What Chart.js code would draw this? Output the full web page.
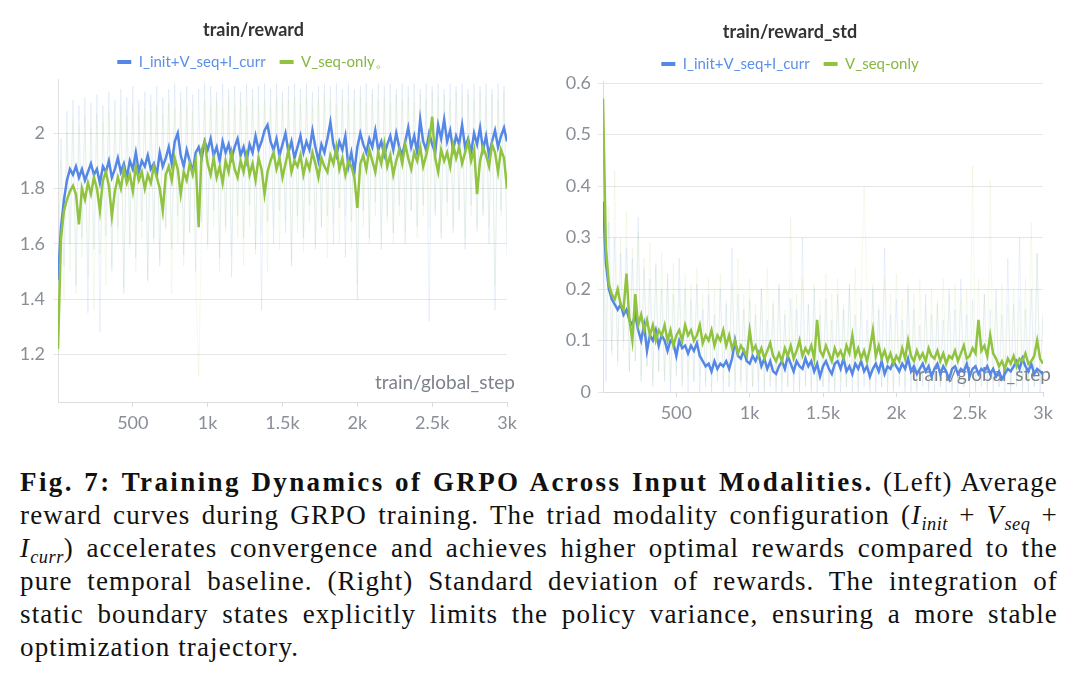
<!DOCTYPE html>
<html>
<head>
<meta charset="utf-8">
<script src="https://cdn.jsdelivr.net/npm/chart.js@4.4.1/dist/chart.umd.min.js"></script>
<style>
  body { margin:0; background:#fff; width:1074px; height:676px; position:relative; overflow:hidden; }
  #c1 { position:absolute; left:0; top:0; }
  #c2 { position:absolute; left:537px; top:0; }
  .cap { position:absolute; left:20px; top:466px; width:1038px; font-family:'Liberation Serif', serif; font-size:27px; line-height:33px; color:#111; letter-spacing:1.15px; }
  .cap div { text-align:justify; text-align-last:justify; }
  .cap div.last { text-align-last:left; }
  .cap b { letter-spacing:2.4px; }
  .cap sub { font-size:0.68em; line-height:0; font-style:italic; letter-spacing:0.5px; }
</style>
</head>
<body>
<canvas id="c1" width="537" height="442"></canvas>
<canvas id="c2" width="537" height="432"></canvas>
<div class="cap">
  <div><b>Fig. 7: Training Dynamics of GRPO Across Input Modalities.</b> (Left) Average</div>
  <div>reward curves during GRPO training. The triad modality configuration (<i>I</i><sub>init</sub> + <i>V</i><sub>seq</sub> +</div>
  <div><i>I</i><sub>curr</sub>) accelerates convergence and achieves higher optimal rewards compared to the</div>
  <div>pure temporal baseline. (Right) Standard deviation of rewards. The integration of</div>
  <div>static boundary states explicitly limits the policy variance, ensuring a more stable</div>
  <div class="last">optimization trajectory.</div>
</div>
<script>
// global steps (shared x values for every series)
const steps = [0,20,40,60,80,100,120,140,160,180,
  200,220,240,260,280,300,320,340,360,380,
  400,420,440,460,480,500,520,540,560,580,
  600,620,640,660,680,700,720,740,760,780,
  800,820,840,860,880,900,920,940,960,980,
  1000,1020,1040,1060,1080,1100,1120,1140,1160,1180,
  1200,1220,1240,1260,1280,1300,1320,1340,1360,1380,
  1400,1420,1440,1460,1480,1500,1520,1540,1560,1580,
  1600,1620,1640,1660,1680,1700,1720,1740,1760,1780,
  1800,1820,1840,1860,1880,1900,1920,1940,1960,1980,
  2000,2020,2040,2060,2080,2100,2120,2140,2160,2180,
  2200,2220,2240,2260,2280,2300,2320,2340,2360,2380,
  2400,2420,2440,2460,2480,2500,2520,2540,2560,2580,
  2600,2620,2640,2660,2680,2700,2720,2740,2760,2780,
  2800,2820,2840,2860,2880,2900,2920,2940,2960,2980,3000];

const xTickVals = [500, 1000, 1500, 2000, 2500, 3000];
const xTickLabels = ['500', '1k', '1.5k', '2k', '2.5k', '3k'];

// ---- train/reward ----
const rewardTicks = [1.2, 1.4, 1.6, 1.8, 2];
const rewardFull = [1.47,1.66,1.76,1.83,1.87,1.85,1.88,1.84,1.87,1.83,
  1.86,1.89,1.85,1.87,1.82,1.88,1.86,1.9,1.84,1.87,
  1.91,1.86,1.89,1.84,1.9,1.87,1.93,1.86,1.9,1.88,
  1.92,1.87,1.89,1.85,1.93,1.88,1.91,1.95,1.89,1.97,
  2.0,1.92,1.88,1.94,1.9,1.86,1.93,1.95,1.91,1.97,
  1.94,1.98,1.92,1.95,1.9,1.97,1.93,1.96,1.91,1.95,
  1.98,1.92,1.95,1.9,1.96,1.93,1.99,1.94,1.97,2.01,
  2.03,1.97,1.94,1.98,1.92,1.96,2.0,1.93,1.97,1.91,
  1.95,1.99,1.93,1.97,1.94,2.01,1.95,1.9,1.96,1.93,
  1.98,2.04,1.96,1.92,1.97,1.94,1.99,1.88,1.93,1.86,
  1.95,2.0,1.96,1.93,1.98,1.95,2.01,1.94,1.97,1.92,
  1.96,1.99,1.94,2.0,1.95,1.92,1.97,2.02,1.95,1.99,
  1.93,2.05,1.97,1.94,2.0,1.96,1.93,2.03,1.98,2.05,
  1.97,2.01,1.94,1.99,1.96,2.03,1.95,1.98,1.93,2.0,
  1.96,2.02,1.94,1.99,1.92,1.97,2.01,1.95,1.99,2.02,1.97];
const rewardSeq = [1.22,1.62,1.72,1.76,1.79,1.81,1.78,1.67,1.8,1.76,
  1.82,1.78,1.84,1.8,1.72,1.83,1.86,1.81,1.7,1.79,
  1.84,1.8,1.87,1.82,1.85,1.79,1.88,1.83,1.86,1.8,
  1.85,1.82,1.88,1.84,1.8,1.72,1.85,1.88,1.83,1.91,
  1.87,1.78,1.86,1.83,1.89,1.85,1.9,1.66,1.94,1.97,
  1.89,1.85,1.91,1.84,1.88,1.82,1.9,1.86,1.93,1.87,
  1.84,1.9,1.86,1.92,1.85,1.89,1.83,1.91,1.87,1.78,
  1.86,1.9,1.93,1.87,1.91,1.84,1.89,1.94,1.86,1.9,
  1.88,1.92,1.85,1.9,1.87,1.93,1.89,1.84,1.91,1.88,
  1.86,1.92,1.89,1.95,1.87,1.91,1.85,1.9,1.88,1.84,
  1.73,1.89,1.92,1.87,1.94,1.9,1.86,1.93,1.89,1.96,
  1.88,1.92,1.85,1.9,1.94,1.89,1.96,1.91,1.87,1.93,
  1.9,1.95,1.88,1.92,1.97,2.06,1.91,1.86,1.94,1.9,
  1.93,1.88,1.96,1.91,1.95,1.89,1.93,1.97,1.9,1.94,
  1.78,1.9,1.95,1.92,1.88,1.96,1.93,1.86,1.94,1.91,1.8];
// raw (unsmoothed) values, drawn faint behind
const rewardFullRaw = [1.45,1.98,1.52,2.08,1.6,2.12,1.45,2.1,1.62,2.13,
  1.35,2.11,1.58,2.14,1.28,2.1,1.63,2.15,1.5,2.12,
  1.66,2.16,1.42,2.13,1.6,2.17,1.55,2.12,1.68,2.15,
  1.47,2.14,1.62,2.17,1.52,2.13,1.66,2.16,1.58,2.18,
  1.7,2.15,1.56,2.17,1.64,2.14,1.5,2.16,1.68,2.18,
  1.6,2.17,1.72,2.15,1.55,2.18,1.66,2.16,1.48,2.17,
  1.7,2.15,1.62,2.18,1.74,2.16,1.58,2.17,1.36,2.18,
  1.68,2.16,1.6,2.18,1.72,2.15,1.64,2.17,1.52,2.18,
  1.7,2.16,1.62,2.18,1.74,2.15,1.58,2.17,1.66,2.18,
  1.7,2.17,1.6,2.18,1.73,2.16,1.55,2.18,1.68,2.16,
  1.4,2.17,1.72,2.18,1.62,2.16,1.75,2.18,1.58,2.17,
  1.7,2.18,1.64,2.16,1.74,2.18,1.6,2.17,1.72,2.18,
  1.66,2.16,1.74,2.18,1.32,2.17,1.7,2.18,1.62,2.16,
  1.75,2.18,1.64,2.17,1.72,2.18,1.58,2.16,1.74,2.18,
  1.66,2.17,1.7,2.18,1.6,2.16,1.36,2.18,1.72,2.17,1.55];
const rewardSeqRaw = [1.25,1.9,1.4,2.0,1.5,2.05,1.42,2.03,1.55,2.06,
  1.48,2.02,1.36,2.07,1.56,2.04,1.45,2.08,1.52,2.05,
  1.6,2.08,1.44,2.06,1.58,2.1,1.5,2.07,1.62,2.09,
  1.46,2.08,1.6,2.1,1.54,2.07,1.65,2.11,1.42,2.09,
  1.6,2.12,1.52,2.1,1.64,2.08,1.48,1.12,1.66,2.12,
  1.58,2.1,1.66,2.12,1.5,2.09,1.64,2.13,1.55,2.1,
  1.62,2.12,1.52,2.1,1.66,2.13,1.56,2.11,1.64,2.12,
  1.5,2.1,1.66,2.13,1.58,2.11,1.68,2.12,1.54,2.13,
  1.64,2.11,1.57,2.13,1.68,2.1,1.6,2.12,1.66,2.14,
  1.55,2.12,1.67,2.1,1.6,2.13,1.7,2.11,1.58,2.12,
  1.45,2.13,1.66,2.11,1.6,2.14,1.7,2.12,1.62,2.13,
  1.68,2.11,1.6,2.14,1.7,2.12,1.64,2.13,1.72,2.11,
  1.62,2.14,1.7,2.12,1.66,2.15,1.72,2.13,1.64,2.14,
  1.7,2.12,1.66,2.15,1.72,2.13,1.62,2.14,1.7,2.12,
  1.64,2.15,1.72,2.13,1.66,2.14,1.45,2.12,1.7,2.15,1.6];

// ---- train/reward_std ----
const stdTicks = [0, 0.1, 0.2, 0.3, 0.4, 0.5, 0.6];
const stdFull = [0.37,0.25,0.2,0.18,0.17,0.16,0.17,0.15,0.16,0.14,
  0.13,0.15,0.12,0.1,0.13,0.08,0.11,0.1,0.12,0.09,
  0.11,0.1,0.08,0.1,0.095,0.07,0.1,0.085,0.09,0.075,
  0.09,0.08,0.095,0.07,0.06,0.05,0.055,0.04,0.06,0.045,
  0.055,0.05,0.06,0.045,0.065,0.1,0.07,0.065,0.08,0.06,
  0.055,0.07,0.06,0.075,0.05,0.065,0.045,0.06,0.04,0.035,
  0.05,0.06,0.045,0.07,0.055,0.04,0.06,0.05,0.045,0.065,
  0.05,0.06,0.04,0.055,0.03,0.05,0.06,0.045,0.035,0.055,
  0.06,0.045,0.065,0.04,0.05,0.035,0.055,0.045,0.06,0.04,
  0.05,0.03,0.045,0.055,0.04,0.06,0.035,0.05,0.045,0.06,
  0.05,0.04,0.055,0.045,0.065,0.04,0.05,0.035,0.045,0.055,
  0.04,0.05,0.03,0.045,0.055,0.035,0.05,0.04,0.025,0.045,
  0.05,0.035,0.045,0.04,0.055,0.03,0.045,0.05,0.035,0.045,
  0.04,0.05,0.035,0.045,0.03,0.04,0.025,0.035,0.045,0.04,
  0.05,0.06,0.045,0.065,0.05,0.04,0.055,0.035,0.045,0.04,0.035];
const stdSeq = [0.57,0.28,0.21,0.19,0.18,0.2,0.17,0.16,0.23,0.14,
  0.1,0.19,0.13,0.15,0.12,0.14,0.11,0.13,0.1,0.12,
  0.11,0.13,0.1,0.12,0.09,0.11,0.12,0.1,0.13,0.11,
  0.12,0.1,0.11,0.13,0.095,0.11,0.1,0.12,0.09,0.11,
  0.1,0.12,0.09,0.11,0.085,0.1,0.075,0.09,0.08,0.07,
  0.12,0.08,0.09,0.07,0.085,0.065,0.08,0.095,0.07,0.06,
  0.075,0.06,0.085,0.07,0.09,0.065,0.08,0.1,0.07,0.085,
  0.075,0.09,0.065,0.14,0.08,0.07,0.09,0.075,0.06,0.085,
  0.07,0.08,0.065,0.09,0.075,0.11,0.07,0.085,0.065,0.08,
  0.06,0.085,0.12,0.07,0.09,0.065,0.08,0.06,0.075,0.055,
  0.07,0.06,0.085,0.065,0.1,0.07,0.06,0.08,0.065,0.075,
  0.06,0.085,0.07,0.065,0.08,0.06,0.075,0.055,0.07,0.065,
  0.08,0.06,0.075,0.09,0.065,0.07,0.085,0.075,0.14,0.08,
  0.09,0.07,0.11,0.075,0.065,0.05,0.06,0.045,0.065,0.055,
  0.07,0.05,0.065,0.06,0.075,0.055,0.06,0.07,0.1,0.065,0.055];
const stdFullRaw = [0.37,0.02,0.33,0.08,0.3,0.06,0.27,0.1,0.28,0.04,
  0.26,0.06,0.34,0.02,0.24,0.05,0.22,0.01,0.25,0.04,
  0.2,0.02,0.23,0.0,0.19,0.03,0.26,0.01,0.2,0.0,
  0.18,0.02,0.21,0.0,0.16,0.01,0.19,0.0,0.15,0.02,
  0.2,0.0,0.17,0.01,0.28,0.0,0.19,0.02,0.16,0.0,
  0.18,0.01,0.15,0.0,0.2,0.0,0.14,0.01,0.17,0.0,
  0.21,0.0,0.15,0.01,0.18,0.0,0.16,0.0,0.3,0.01,
  0.17,0.0,0.2,0.0,0.15,0.01,0.18,0.0,0.14,0.0,
  0.19,0.0,0.16,0.01,0.21,0.0,0.15,0.0,0.18,0.01,
  0.14,0.0,0.2,0.0,0.16,0.01,0.28,0.0,0.15,0.0,
  0.18,0.01,0.14,0.0,0.2,0.0,0.16,0.0,0.13,0.01,
  0.19,0.0,0.15,0.0,0.17,0.01,0.14,0.0,0.2,0.0,
  0.16,0.0,0.22,0.01,0.15,0.0,0.18,0.0,0.14,0.01,
  0.19,0.0,0.16,0.0,0.2,0.01,0.15,0.0,0.26,0.0,
  0.17,0.01,0.3,0.0,0.16,0.0,0.2,0.01,0.27,0.0,0.15];
const stdSeqRaw = [0.6,0.1,0.36,0.07,0.43,0.05,0.3,0.08,0.35,0.04,
  0.28,0.06,0.31,0.03,0.26,0.05,0.29,0.02,0.24,0.04,
  0.27,0.03,0.22,0.02,0.25,0.04,0.2,0.02,0.23,0.03,
  0.21,0.02,0.24,0.03,0.19,0.02,0.22,0.01,0.2,0.03,
  0.23,0.02,0.18,0.01,0.21,0.02,0.26,0.01,0.19,0.02,
  0.22,0.01,0.17,0.02,0.2,0.01,0.24,0.02,0.18,0.01,
  0.2,0.02,0.16,0.01,0.34,0.02,0.19,0.01,0.22,0.02,
  0.17,0.01,0.21,0.02,0.18,0.01,0.23,0.02,0.19,0.01,
  0.22,0.02,0.17,0.01,0.2,0.02,0.24,0.01,0.18,0.4,
  0.19,0.01,0.21,0.02,0.17,0.01,0.22,0.02,0.19,0.01,
  0.23,0.02,0.18,0.01,0.21,0.02,0.19,0.01,0.22,0.02,
  0.17,0.01,0.2,0.02,0.18,0.01,0.22,0.02,0.19,0.01,
  0.21,0.02,0.18,0.01,0.2,0.02,0.44,0.01,0.22,0.02,
  0.19,0.01,0.41,0.02,0.18,0.01,0.21,0.02,0.17,0.01,
  0.2,0.02,0.18,0.01,0.22,0.02,0.33,0.01,0.27,0.02,0.16];

const BLUE = '#5487e6', GREEN = '#90c340';
const BLUE_TXT = '#5b8fe8', GREEN_TXT = '#86b843';
const FONT = 'Lato';

// axis name drawn inside the plot, bottom right, under the lines
const stepLabel = {
  id: 'stepLabel',
  beforeDatasetsDraw(chart, args, opts) {
    const { ctx, chartArea } = chart;
    ctx.save();
    ctx.font = '19px ' + FONT;
    ctx.fillStyle = '#7d828a';
    ctx.textAlign = 'right';
    ctx.textBaseline = 'middle';
    ctx.fillText('train/global_step', chartArea.right + 8, chartArea.bottom - opts.dy);
    ctx.restore();
  }
};

function makeChart(id, o) {
  const ds = (label, data, color, w, order) => ({
    label, data, borderColor: color, backgroundColor: color,
    borderWidth: w, pointRadius: 0, tension: 0, order
  });
  return new Chart(document.getElementById(id), {
    type: 'line',
    data: {
      labels: steps,
      datasets: [
        ds('raw1', o.raw1, 'rgba(84,135,230,0.11)', 1, 4),
        ds('raw2', o.raw2, 'rgba(165,205,95,0.11)', 1, 3),
        ds('I_init+V_seq+I_curr', o.full, BLUE, 2.5, 2),
        ds(o.seqName, o.seq, GREEN, 2.5, 1)
      ]
    },
    options: {
      responsive: false, animation: false, devicePixelRatio: 1,
      layout: { padding: { left: 0, right: o.padRight, top: 0, bottom: 0 } },
      plugins: {
        title: { display: true, text: o.title, color: '#333',
          font: { family: FONT, size: 18, weight: 'bold' }, padding: { top: o.titleTop, bottom: 0 } },
        legend: {
          labels: {
            boxWidth: 14, boxHeight: 4, padding: 14,
            font: { family: FONT, size: 15 },
            filter: item => item.datasetIndex >= 2,
            sort: (a, b) => a.datasetIndex - b.datasetIndex,
            generateLabels: chart => Chart.defaults.plugins.legend.labels.generateLabels(chart).map(it => {
              const c = it.datasetIndex === 2 ? BLUE : GREEN;
              it.fontColor = it.datasetIndex === 2 ? BLUE_TXT : GREEN_TXT;
              it.fillStyle = c; it.strokeStyle = c; it.lineWidth = 0;
              return it;
            })
          }
        },
        tooltip: { enabled: false },
        stepLabel: { dy: o.nameDy }
      },
      scales: {
        x: {
          type: 'linear', min: 0, max: 3000,
          afterBuildTicks: s => { s.ticks = xTickVals.map(v => ({ value: v })); },
          afterFit: s => { s.height = 40; },
          ticks: { color: '#8a8f97', font: { family: FONT, size: 18 }, padding: 5, maxRotation: 0,
            callback: v => xTickLabels[xTickVals.indexOf(v)] },
          grid: { drawOnChartArea: false, drawTicks: true, tickLength: 5, color: '#dcdcdc' },
          border: { color: '#dcdcdc' }
        },
        y: {
          min: o.yMin, max: o.yMax,
          afterBuildTicks: s => { s.ticks = o.yTicks.map(v => ({ value: v })); },
          afterFit: s => { s.width = o.axisW; },
          ticks: { color: '#8a8f97', font: { family: FONT, size: 18 }, padding: o.yPad,
            callback: v => String(v) },
          grid: { color: '#e6e6e6', tickLength: 5 },
          border: { color: '#e0e0e0' }
        }
      }
    },
    plugins: [stepLabel]
  });
}

makeChart('c1', {
  title: 'train/reward', seqName: 'V_seq-only\u3002',
  full: rewardFull, seq: rewardSeq, raw1: rewardFullRaw, raw2: rewardSeqRaw,
  yMin: 1.028, yMax: 2.194, yTicks: rewardTicks,
  axisW: 58, yPad: 8, padRight: 30, titleTop: 19, nameDy: 19
});

makeChart('c2', {
  title: 'train/reward_std', seqName: 'V_seq-only',
  full: stdFull, seq: stdSeq, raw1: stdFullRaw, raw2: stdSeqRaw,
  yMin: 0, yMax: 0.603, yTicks: stdTicks,
  axisW: 66, yPad: 7, padRight: 31, titleTop: 21, nameDy: 17
});
</script>
</body>
</html>
